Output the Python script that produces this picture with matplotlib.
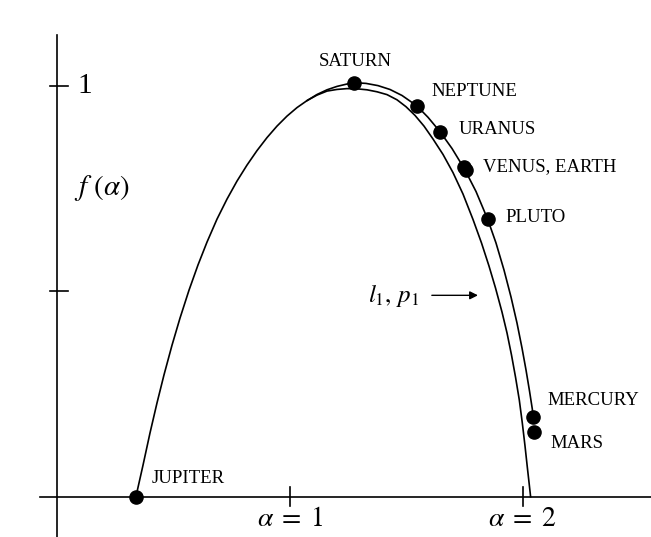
import matplotlib
matplotlib.use("Agg")
import matplotlib.pyplot as plt

plt.rcParams.update({
    'font.family': 'serif',
    'font.serif': ['Liberation Serif', 'DejaVu Serif'],
    'mathtext.fontset': 'stix',
})

# Shared/inner spectrum: from Jupiter over the top and down to the alpha axis
inner_alpha = [0.3400, 0.3704, 0.4004, 0.4305, 0.4605, 0.4948, 0.5292, 0.5678,
               0.6064, 0.6451, 0.6880, 0.7309, 0.7738, 0.8167, 0.8597, 0.9026,
               0.9455, 0.9884, 1.0313, 1.0742, 1.1172, 1.1601, 1.2030, 1.2459,
               1.2888, 1.3318, 1.3747, 1.4176, 1.4605, 1.4991, 1.5378, 1.5764,
               1.6150, 1.6579, 1.7008, 1.7437, 1.7867, 1.8232, 1.8553, 1.8833,
               1.9111, 1.9327, 1.9519, 1.9691, 1.9854, 1.9983, 2.0099, 2.0197,
               2.0279, 2.0339]
inner_f = [0.0000, 0.0766, 0.1550, 0.2282, 0.2964, 0.3684, 0.4345, 0.5024,
           0.5638, 0.6195, 0.6754, 0.7241, 0.7679, 0.8068, 0.8421, 0.8737,
           0.9017, 0.9260, 0.9467, 0.9637, 0.9771, 0.9869, 0.9909, 0.9929,
           0.9924, 0.9900, 0.9852, 0.9783, 0.9657, 0.9489, 0.9277, 0.9017,
           0.8703, 0.8328, 0.7886, 0.7365, 0.6745, 0.6173, 0.5613, 0.5078,
           0.4494, 0.3983, 0.3448, 0.2912, 0.2353, 0.1793, 0.1234, 0.0723,
           0.0309, 0.0000]

# Outer branch (l1, p1) through the planets, ending at Mercury
outer_alpha = [1.0742, 1.1172, 1.1601, 1.2030, 1.2459, 1.2773, 1.3275, 1.3790,
               1.4305, 1.4820, 1.5451, 1.5936, 1.6451, 1.6966, 1.7502, 1.7996,
               1.8498, 1.8854, 1.9197, 1.9498, 1.9755, 1.9970, 2.0142, 2.0292,
               2.0412, 2.0455]
outer_f = [0.9637, 0.9786, 0.9900, 0.9983, 1.0041, 1.0073, 1.0056, 1.0002,
           0.9908, 0.9762, 0.9513, 0.9231, 0.8881, 0.8472, 0.7973, 0.7426,
           0.6749, 0.6173, 0.5516, 0.4859, 0.4226, 0.3618, 0.3083, 0.2572,
           0.2134, 0.1932]

planets = ['JUPITER', 'SATURN', 'NEPTUNE', 'URANUS', 'VENUS', 'EARTH',
           'PLUTO', 'MERCURY', 'MARS']
planet_alpha = [0.340, 1.277, 1.545, 1.645, 1.746, 1.755, 1.850, 2.046, 2.049]
planet_f = [0.000, 1.007, 0.951, 0.888, 0.801, 0.794, 0.675, 0.193, 0.157]

fig = plt.figure(figsize=(6.51, 5.37), dpi=100)
ax = fig.add_axes([0, 0, 1, 1])
ax.set_xlim(-0.2433, 2.5506)
ax.set_ylim(-0.098, 1.2085)
ax.axis('off')

lw = 1.2
# hand-drawn axes with crossing ticks
ax.plot([-0.072, 2.5506], [0, 0], color='black', lw=lw)
ax.plot([0, 0], [-0.098, 1.123], color='black', lw=lw)
for fv in [0.5, 1.0]:
    ax.plot([-0.029, 0.049], [fv, fv], color='black', lw=lw)
for av in [1, 2]:
    ax.plot([av, av], [0.023, -0.023], color='black', lw=lw)

ax.text(0.121, 1.0, '1', fontsize=21, ha='center', va='center')
ax.text(0.195, 0.752, r'$f\ (\alpha)$', fontsize=21, ha='center', va='center')
ax.text(1.0, -0.055, r'$\alpha\;=\;1$', fontsize=20, ha='center', va='center')
ax.text(2.0, -0.055, r'$\alpha\;=\;2$', fontsize=20, ha='center', va='center')

ax.plot(inner_alpha, inner_f, color='black', lw=lw, solid_joinstyle='round')
ax.plot(outer_alpha, outer_f, color='black', lw=lw, solid_joinstyle='round')
ax.scatter(planet_alpha, planet_f, s=90, color='black', zorder=3)

label_style = dict(fontsize=13.5, va='center')
ax.text(0.408, 0.044, 'JUPITER', ha='left', **label_style)
ax.text(1.280, 1.060, 'SATURN', ha='center', **label_style)
ax.text(1.610, 0.987, 'NEPTUNE', ha='left', **label_style)
ax.text(1.723, 0.893, 'URANUS', ha='left', **label_style)
ax.text(1.830, 0.802, 'VENUS, EARTH', ha='left', **label_style)
ax.text(1.924, 0.680, 'PLUTO', ha='left', **label_style)
ax.text(2.108, 0.235, 'MERCURY', ha='left', **label_style)
ax.text(2.117, 0.130, 'MARS', ha='left', **label_style)

ax.text(1.555, 0.490, r'$l_1,\, p_1$', fontsize=18, ha='right', va='center')
ax.annotate('', xy=(1.808, 0.490), xytext=(1.610, 0.490),
            arrowprops=dict(arrowstyle='-|>', color='black', lw=1.0,
                            mutation_scale=12, shrinkA=0, shrinkB=0))

plt.savefig('out.png', dpi=100)
